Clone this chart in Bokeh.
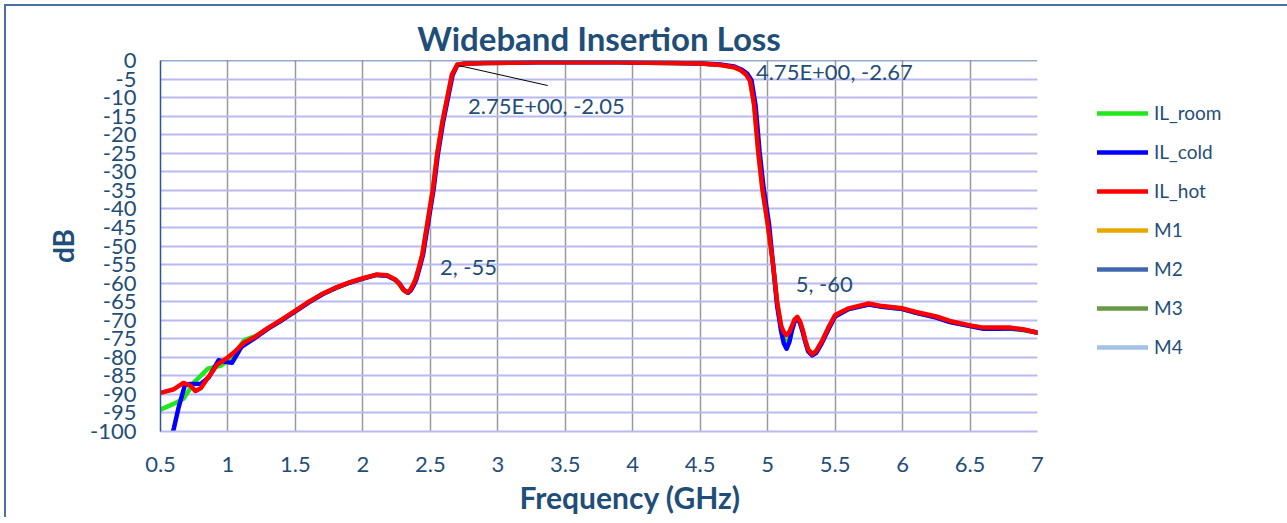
from bokeh.plotting import figure
from bokeh.models import (Range1d, FixedTicker, Legend, LegendItem, ColumnDataSource, Span, Title)
from bokeh.core.properties import value
from bokeh.embed import file_html
from bokeh.resources import INLINE

# ---------------- data ----------------
freq_hot = [0.5, 0.6, 0.67, 0.72, 0.76, 0.8, 0.85, 0.92, 1.0, 1.05, 1.12, 1.2, 1.3, 1.4, 1.5,
            1.6, 1.7, 1.8, 1.9, 2.0, 2.1, 2.18, 2.24, 2.27, 2.30, 2.33, 2.35, 2.37, 2.39, 2.41,
            2.44, 2.48, 2.52, 2.55, 2.59, 2.63, 2.66, 2.70, 2.75, 2.9, 3.1, 3.3, 3.5, 3.7, 3.9,
            4.1, 4.3, 4.5, 4.65, 4.75, 4.80, 4.84, 4.87, 4.90, 4.93, 4.96, 5.0, 5.04, 5.07,
            5.10, 5.12, 5.14, 5.16, 5.18, 5.20, 5.22, 5.24, 5.26, 5.28, 5.30, 5.33, 5.36, 5.40,
            5.45, 5.5, 5.6, 5.75, 5.85, 6.0, 6.1, 6.25, 6.35, 6.5, 6.6, 6.7, 6.8, 6.9, 7.0]
il_hot = [-89.6, -88.6, -86.9, -87.6, -89.1, -88.3, -85.6, -82.0, -80.0, -78.5, -76.0, -74.5,
          -72.0, -69.8, -67.4, -65.0, -62.9, -61.2, -59.8, -58.7, -57.7, -57.9, -59.0, -60.2,
          -61.8, -62.5, -61.9, -60.6, -59.0, -56.5, -52.4, -43.4, -34.4, -25.4, -16.4, -9.2,
          -3.8, -1.1, -0.9, -0.7, -0.6, -0.5, -0.45, -0.5, -0.5, -0.6, -0.7, -0.8, -1.2, -1.8,
          -2.6, -3.8, -5.5, -12.0, -24.5, -34.4, -44.0, -55.0, -65.0, -71.5, -73.3, -74.0,
          -73.2, -71.5, -69.8, -69.1, -70.3, -72.6, -75.5, -77.8, -79.2, -78.3, -75.8, -72.0,
          -68.6, -66.8, -65.5, -66.2, -66.8, -67.8, -69.0, -70.2, -71.4, -72.0, -72.0, -72.0,
          -72.5, -73.4]

freq_cold = [0.57, 0.6, 0.635, 0.68, 0.72, 0.8, 0.86, 0.93, 0.99, 1.03, 1.1, 1.2, 1.3, 1.4, 1.5,
             1.6, 1.7, 1.8, 1.9, 2.0, 2.1, 2.18, 2.24, 2.275, 2.305, 2.335, 2.355, 2.375, 2.395,
             2.415, 2.445, 2.485, 2.525, 2.555, 2.595, 2.635, 2.665, 2.70, 2.75, 2.9, 3.1, 3.3,
             3.5, 3.7, 3.9, 4.1, 4.3, 4.5, 4.65, 4.75, 4.81, 4.85, 4.88, 4.91, 4.94, 4.97, 5.01,
             5.04, 5.07, 5.10, 5.12, 5.14, 5.16, 5.18, 5.20, 5.22, 5.24, 5.26, 5.28, 5.30, 5.33,
             5.36, 5.40, 5.45, 5.5, 5.6, 5.75, 5.85, 6.0, 6.1, 6.25, 6.35, 6.5, 6.6, 6.7, 6.8,
             6.9, 7.0]
il_cold = [-103.0, -99.0, -93.4, -87.6, -87.2, -87.1, -85.3, -80.8, -81.3, -81.5, -77.2, -74.8,
           -72.2, -70.0, -67.6, -65.2, -63.0, -61.3, -59.9, -58.8, -57.8, -58.0, -59.1, -60.3,
           -61.9, -62.6, -62.0, -60.7, -59.1, -56.6, -52.5, -43.5, -34.5, -25.5, -16.5, -9.3,
           -3.9, -1.2, -0.9, -0.7, -0.6, -0.5, -0.45, -0.5, -0.5, -0.6, -0.7, -0.8, -1.1,
           -1.6, -2.5, -3.6, -5.3, -12.0, -24.5, -34.4, -44.0, -55.0, -66.0, -73.0, -76.3,
           -77.7, -76.0, -72.8, -70.4, -69.5, -70.8, -73.2, -76.0, -78.4, -79.5, -78.8, -76.3,
           -72.5, -69.0, -67.0, -65.8, -66.4, -67.0, -68.0, -69.3, -70.5, -71.6, -72.3, -72.3,
           -72.2, -72.6, -73.3]

freq_room = [0.5, 0.6, 0.67, 0.75, 0.85, 0.95, 1.02, 1.12, 1.22, 1.3, 1.4, 1.5,
             1.6, 1.7, 1.8, 1.9, 2.0, 2.1, 2.18, 2.24, 2.27, 2.30, 2.33, 2.35, 2.37, 2.39, 2.41,
             2.44, 2.48, 2.52, 2.55, 2.59, 2.63, 2.66, 2.70, 2.75, 2.9, 3.1, 3.3, 3.5, 3.7, 3.9,
             4.1, 4.3, 4.5, 4.65, 4.75, 4.80, 4.84, 4.87, 4.90, 4.93, 4.96, 5.0, 5.04, 5.07,
             5.10, 5.12, 5.14, 5.16, 5.18, 5.20, 5.22, 5.24, 5.26, 5.28, 5.30, 5.33, 5.36, 5.40,
             5.45, 5.5, 5.6, 5.75, 5.85, 6.0, 6.1, 6.25, 6.35, 6.5, 6.6, 6.7, 6.8, 6.9, 7.0]
il_room = [-94.1, -92.5, -91.2, -86.7, -83.1, -82.2, -80.4, -75.4, -74.1, -72.2, -69.9, -67.5,
           -65.1, -63.0, -61.3, -59.9, -58.8, -57.8, -58.0, -59.1, -60.3, -61.9, -62.6, -62.0,
           -60.7, -59.1, -56.6, -52.5, -43.5, -34.5, -25.5, -16.5, -9.3, -3.9, -1.2, -0.9,
           -0.7, -0.6, -0.5, -0.45, -0.5, -0.5, -0.6, -0.7, -0.8, -1.2, -1.8, -2.6, -3.8, -5.5,
           -12.0, -24.5, -34.4, -44.0, -55.0, -65.5, -72.0, -75.0, -76.0, -75.0, -72.3, -70.0,
           -69.3, -70.6, -72.9, -75.8, -78.0, -79.0, -78.4, -76.0, -72.2, -68.8, -67.0, -65.7,
           -66.4, -67.0, -68.0, -69.2, -70.4, -71.5, -72.1, -72.3, -72.3, -72.7, -73.4]

marker_names = ["M1", "M2", "M3", "M4"]
marker_freq = [2.75, 4.75, 2.0, 5.0]
marker_db = [-2.05, -2.67, -55.0, -60.0]
marker_labels = ["2.75E+00, -2.05", "4.75E+00, -2.67", "2, -55", "5, -60"]

x_ticks = [0.5, 1, 1.5, 2, 2.5, 3, 3.5, 4, 4.5, 5, 5.5, 6, 6.5, 7]
x_tick_labels = ["0.5", "1", "1.5", "2", "2.5", "3", "3.5", "4", "4.5", "5", "5.5", "6", "6.5", "7"]
y_ticks = [0, -5, -10, -15, -20, -25, -30, -35, -40, -45, -50, -55, -60, -65, -70, -75, -80,
           -85, -90, -95, -100]
y_tick_labels = ["0", "-5", "-10", "-15", "-20", "-25", "-30", "-35", "-40", "-45", "-50", "-55",
                 "-60", "-65", "-70", "-75", "-80", "-85", "-90", "-95", "-100"]

# ---------------- styles ----------------
FONT = "Lato"
TXT = "#1F4E79"
LAV = "#B9B9F3"
c_room, c_cold, c_hot = "#22E61E", "#0000FF", "#FF0000"
marker_colors = ["#E8A800", "#3F68B0", "#6A9A45", "#A4C2E4"]
label_dx = [4, 22, 77, 28]
label_dy = [37, 1, 2, 0]

p = figure(frame_width=877, frame_height=371,
           min_border_left=154, min_border_right=244, min_border_top=54, min_border_bottom=86,
           x_range=Range1d(0.5, 7), y_range=Range1d(-100, 0),
           output_backend="svg", toolbar_location=None,
           title="Wideband Insertion Loss")
p.styles = {"margin": "4px 0px 0px 4px",
            "border-left": "2px solid #4A6FA0", "border-top": "2px solid #4A6FA0",
            "border-right": "2px solid #4A6FA0"}
p.outline_line_color = None
p.background_fill_color = "white"
p.border_fill_color = "white"

p.title.align = "center"
p.title.text_font = FONT
p.title.text_font_size = "33px"
p.title.text_font_style = "bold"
p.title.text_color = TXT
p.title.standoff = 6

# axes
p.xaxis.ticker = FixedTicker(ticks=x_ticks)
p.xaxis.major_label_overrides = {t: l for t, l in zip(x_ticks, x_tick_labels)}
p.yaxis.ticker = FixedTicker(ticks=y_ticks)
p.yaxis.major_label_overrides = {t: l for t, l in zip(y_ticks, y_tick_labels)}
for ax in (p.xaxis, p.yaxis):
    ax.major_tick_line_color = None
    ax.minor_tick_line_color = None
    ax.major_tick_out = 0
    ax.major_tick_in = 0
    ax.minor_tick_out = 0
    ax.minor_tick_in = 0
    ax.major_label_text_font = FONT
    ax.major_label_text_font_size = "22px"
    ax.major_label_text_color = TXT
    ax.axis_label_text_font = FONT
    ax.axis_label_text_font_size = "28px"
    ax.axis_label_text_font_style = "bold"
    ax.axis_label_text_color = TXT
p.yaxis.axis_label = "dB"
p.xaxis.axis_line_color = LAV
p.xaxis.axis_line_width = 2
p.yaxis.axis_line_color = "#2F5597"
p.yaxis.axis_line_width = 1.5
p.xaxis.major_label_standoff = 25
p.yaxis.major_label_standoff = 24
p.yaxis.axis_label_standoff = 7

# x axis title (placed slightly right of centre, as in the original)
xt = Title(text="Frequency (GHz)", align="left", offset=359, standoff=4,
           text_font=FONT, text_font_size="30px", text_font_style="bold", text_color=TXT)
p.add_layout(xt, "below")

p.xgrid.ticker = FixedTicker(ticks=x_ticks)
p.xgrid.grid_line_color = "#9A9A9A"
p.xgrid.grid_line_width = 1.5
p.ygrid.ticker = FixedTicker(ticks=y_ticks)
p.ygrid.grid_line_color = LAV
p.ygrid.grid_line_width = 2

# top border of plot area
p.add_layout(Span(location=0, dimension="width", line_color="#2F5597", line_width=1.5))

# series
r_room = p.line(freq_room, il_room, line_color=c_room, line_width=4.5, line_join="round", line_cap="round")
r_cold = p.line(freq_cold, il_cold, line_color=c_cold, line_width=4.5, line_join="round", line_cap="round")
r_hot = p.line(freq_hot, il_hot, line_color=c_hot, line_width=4.5, line_join="round", line_cap="round")
r_markers = []
for name, fx, fy, col in zip(marker_names, marker_freq, marker_db, marker_colors):
    r_markers.append(p.line([fx], [fy], line_color=col, line_width=4.5, line_cap="round"))

# leader line for first marker label (from point toward label)
lead_src = ColumnDataSource(dict(x0=[marker_freq[0] - 0.04], y0=[marker_db[0] + 0.7],
                                 x1=[marker_freq[0] + 0.62], y1=[marker_db[0] - 4.7]))
p.segment(x0="x0", y0="y0", x1="x1", y1="y1", source=lead_src, line_color="black", line_width=1)

lab_src = ColumnDataSource(dict(x=marker_freq, y=marker_db, t=marker_labels, dx=label_dx, dy=label_dy))
p.text(x="x", y="y", text="t", x_offset="dx", y_offset="dy", source=lab_src,
       text_font=value(FONT), text_font_size="22px", text_color=TXT,
       text_align="left", text_baseline="middle")

items = [LegendItem(label="IL_room", renderers=[r_room]),
         LegendItem(label="IL_cold", renderers=[r_cold]),
         LegendItem(label="IL_hot", renderers=[r_hot])]
for name, r in zip(marker_names, r_markers):
    items.append(LegendItem(label=name, renderers=[r]))
legend = Legend(items=items, location=(60, 73), padding=0, margin=0,
                spacing=16, glyph_width=51, glyph_height=20, label_height=20,
                label_standoff=6, border_line_color=None, background_fill_alpha=0,
                label_text_font=FONT, label_text_font_size="19px", label_text_color=TXT)
p.add_layout(legend, "right")

open("out.html", "w").write(file_html(p, INLINE))
